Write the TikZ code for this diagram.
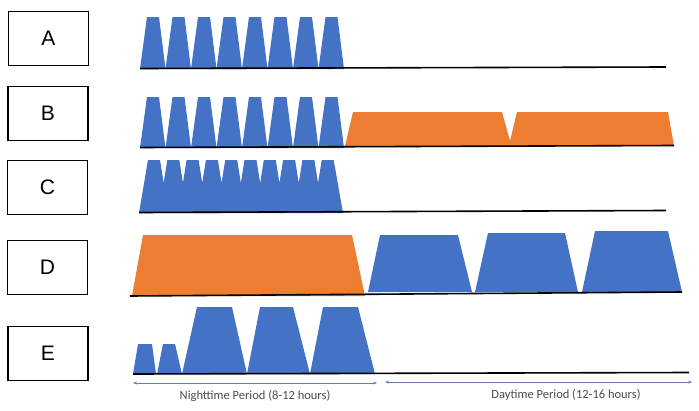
\documentclass[tikz,border=0pt]{standalone}
\usepackage{fontspec}
\setmainfont{Liberation Sans}
\newfontfamily\capfont{Carlito}
\usetikzlibrary{arrows.meta}
\definecolor{oblue}{HTML}{4472C4}
\definecolor{oorange}{HTML}{ED7D31}
\definecolor{arrcol}{HTML}{5E7FB5}
\begin{document}
\begin{tikzpicture}[x=1pt,y=-1pt,
  lbox/.style={draw=black,line width=1.4pt,minimum width=80pt,minimum height=54pt,inner sep=0pt,font=\fontsize{21}{21}\selectfont},
  baseln/.style={line width=1.6pt,black},
  bfill/.style={fill=oblue,draw=none},
  ofill/.style={fill=oorange,draw=none},
  period/.style={arrcol,line width=0.7pt,{Stealth[length=4pt,width=3pt]}-{Stealth[length=4pt,width=3pt]}},
  plabel/.style={font=\capfont\fontsize{12.5}{12.5}\selectfont,text=black!70}]
\useasboundingbox (0,0) rectangle (699,410);
% letter boxes
\node[lbox] (A) at (48.5,38.5) {A};
\node[lbox] (B) at (48,113.5) {B};
\node[lbox] (C) at (47.5,187.5) {C};
\node[lbox] (D) at (47.5,267.5) {D};
\node[lbox] (E) at (48,353.5) {E};
% Row A
\foreach \i in {0,...,7}{
  \pgfmathsetmacro\xx{140+\i*25.5}
  \fill[bfill] (\xx,69) -- (\xx+7,17) -- (\xx+19,17) -- (\xx+25.5,69) -- cycle;
}
\coordinate (a1) at (140,68.5);
\coordinate (a2) at (666,67);
\draw[baseln] (a1) -- (a2);
% Row B
\foreach \i in {0,...,7}{
  \pgfmathsetmacro\xx{140+\i*25.5}
  \fill[bfill] (\xx,148) -- (\xx+7,97) -- (\xx+19,97) -- (\xx+25.5,148) -- cycle;
}
\fill[ofill] (345,146) -- (353,112) -- (502,112) -- (510,141) -- (517,112) -- (668,112) -- (674,146) -- cycle;
\coordinate (b1) at (140,147.5);
\coordinate (b2) at (674,145.5);
\draw[baseln] (b1) -- (b2);
% Row C
\fill[bfill] (139,213) -- (148,160)
  \foreach \i in {0,...,8}{ -- ({148+\i*19.3+12},160) -- ({148+\i*19.3+15.65},183) -- ({148+(\i+1)*19.3},160) }
  -- (333.7,160) -- (343,213) -- cycle;
\coordinate (c1) at (139,212.5);
\coordinate (c2) at (666,210.5);
\draw[baseln] (c1) -- (c2);
% Row D
\fill[ofill] (132,296) -- (143,235) -- (352,235) -- (365,296) -- cycle;
\fill[bfill] (368,292) -- (380,235) -- (458,235) -- (472,292) -- cycle;
\fill[bfill] (475,292) -- (488,233) -- (565,233) -- (578,292) -- cycle;
\fill[bfill] (582,292) -- (595,231) -- (668,231) -- (682,292) -- cycle;
\coordinate (d1) at (130,296);
\coordinate (d2) at (682,292);
\draw[baseln] (d1) -- (d2);
% Row E
\fill[bfill] (133,374) -- (138,344) -- (152,344) -- (156,374) -- cycle;
\fill[bfill] (157,374) -- (163,344) -- (175,344) -- (182,374) -- cycle;
\fill[bfill] (182,374) -- (197,307) -- (232,307) -- (247,374) -- cycle;
\fill[bfill] (247,374) -- (260,307) -- (293,307) -- (310,374) -- cycle;
\fill[bfill] (310,374) -- (323,307) -- (358,307) -- (375,374) -- cycle;
\coordinate (e1) at (133,374);
\coordinate (e2) at (689,372.5);
\draw[baseln] (e1) -- (e2);
% period arrows
\coordinate (n1) at (133,383);
\coordinate (n2) at (377,383);
\coordinate (t1) at (385,382);
\coordinate (t2) at (692,382);
\draw[period] (n1) -- (n2);
\draw[period] (t1) -- (t2);
\node[plabel] (nl) at (255,396) {Nighttime Period (8-12 hours)};
\node[plabel] (tl) at (566,394.5) {Daytime Period (12-16 hours)};
\end{tikzpicture}
\end{document}
